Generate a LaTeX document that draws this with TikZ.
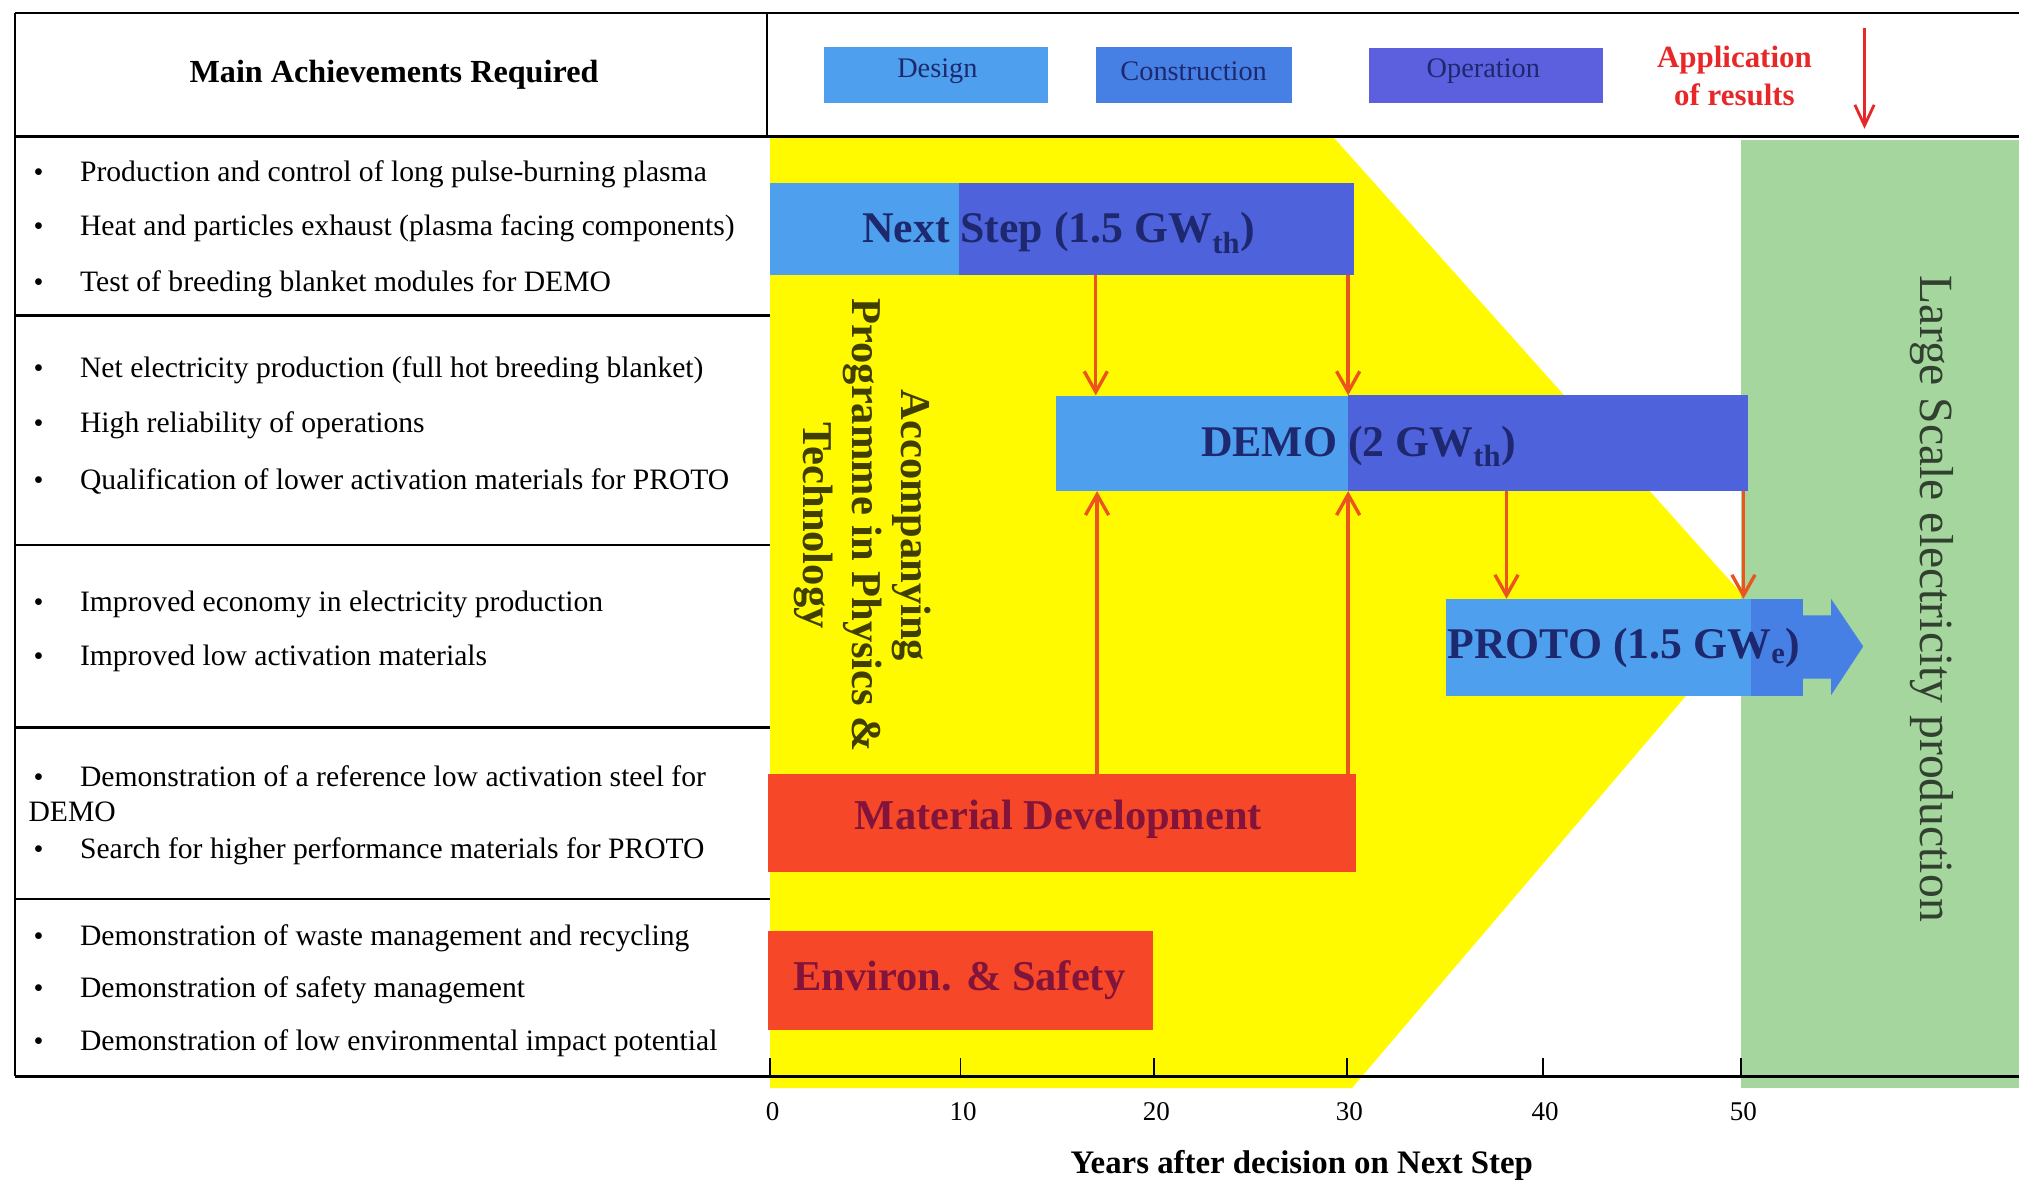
\documentclass[tikz,border=0pt]{standalone}
\usepackage{fontspec}
\setmainfont{Liberation Serif}
\usetikzlibrary{arrows.meta,calc}
\definecolor{ylw}{RGB}{255,250,0}
\definecolor{grn}{RGB}{164,214,158}
\definecolor{lblue}{RGB}{78,160,238}
\definecolor{cblue}{RGB}{70,128,228}
\definecolor{dblue}{RGB}{78,98,220}
\definecolor{oblue}{RGB}{92,96,222}
\definecolor{rbar}{RGB}{246,72,40}
\definecolor{rarrow}{RGB}{236,84,30}
\definecolor{appred}{RGB}{232,40,40}
\definecolor{navy}{RGB}{30,40,110}
\definecolor{maroon}{RGB}{130,20,60}
\tikzset{
  tline/.style={line width=1.6pt, black},
  item/.style={anchor=base west, inner sep=0pt, font=\fontsize{23}{27}\selectfont},
  bul/.style={anchor=base, inner sep=0pt, font=\fontsize{22}{26}\selectfont},
  barbox/.style={draw=none, anchor=north west, inner sep=0pt},
  barlbl/.style={inner sep=0pt, font=\bfseries\fontsize{34}{38}\selectfont, text=navy},
  redlbl/.style={inner sep=0pt, font=\bfseries\fontsize{33}{37}\selectfont, text=maroon},
  leglbl/.style={inner sep=0pt, font=\fontsize{22}{26}\selectfont, text=navy},
  rarr/.style={draw=rarrow, line width=2.6pt, -{Straight Barb[length=16pt,width=18pt,line width=2.6pt]}},
  ticklbl/.style={inner sep=0pt, font=\fontsize{21}{25}\selectfont},
}
\begin{document}
\begin{tikzpicture}[x=1pt,y=-1pt]
\useasboundingbox (0,0) rectangle (1568,918);
\fill[white] (0,0) rectangle (1568,918);

% background regions
\fill[ylw] (598,106) -- (1035,106) -- (1365,475) -- (1050,845) -- (598,845) -- cycle;
\fill[grn] (1352,109) rectangle (1568,845);

% table lines
\draw[tline] (12,10) -- (1568,10);
\draw[tline] (12,106) -- (1568,106);
\draw[tline] (12,10) -- (12,836);
\draw[tline] (596,10) -- (596,106);
\foreach \yy in {245,423,565,698} { \draw[tline] (12,\yy) -- (598,\yy); }
\draw[tline] (12,836) -- (1568,836);

% axis ticks
\coordinate (t0) at (598,836);
\coordinate (t10) at (746,836);
\coordinate (t20) at (896,836);
\coordinate (t30) at (1046,836);
\coordinate (t40) at (1198,836);
\coordinate (t50) at (1352,836);
\foreach \t/\l in {t0/0,t10/10,t20/20,t30/30,t40/40,t50/50} {
  \draw[line width=1.4pt] (\t) -- ++(0,-14);
  \node[ticklbl] (lab\t) at ($(\t)+(2,27)$) {\l};
}
\node[inner sep=0pt, font=\bfseries\fontsize{25.5}{29}\selectfont] (axtitle) at (1011,905) {Years after decision on Next Step};

% header
\node[inner sep=0pt, font=\bfseries\fontsize{25}{29}\selectfont] (head) at (306,58) {Main Achievements Required};
\node[barbox, fill=lblue, minimum width=174, minimum height=44] (legD) at (640,36) {};
\node[leglbl] (legDl) at (728,55) {Design};
\node[barbox, fill=cblue, minimum width=152, minimum height=44] (legC) at (851,36) {};
\node[leglbl] (legCl) at (927,55) {Construction};
\node[barbox, fill=oblue, minimum width=182, minimum height=43] (legO) at (1063,37) {};
\node[leglbl] (legOl) at (1152,55) {Operation};
\node[inner sep=0pt, align=center, text=appred, font=\bfseries\fontsize{24}{29}\selectfont] (app) at (1347,59) {Application\\of results};
\coordinate (appTop) at (1448,22);
\coordinate (appBot) at (1448,100);
\draw[draw=appred, line width=2.2pt, -{Straight Barb[length=16pt,width=15pt,line width=2.2pt]}] (appTop) -- (appBot);

% left table text
\node[bul] (b11) at (30,141) {•}; \node[item] (i11) at (62,141) {Production and control of long pulse-burning plasma};
\node[bul] (b12) at (30,183) {•}; \node[item] (i12) at (62,183) {Heat and particles exhaust (plasma facing components)};
\node[bul] (b13) at (30,226) {•}; \node[item] (i13) at (62,226) {Test of breeding blanket modules for DEMO};
\node[bul] (b21) at (30,293) {•}; \node[item] (i21) at (62,293) {Net electricity production (full hot breeding blanket)};
\node[bul] (b22) at (30,336) {•}; \node[item] (i22) at (62,336) {High reliability of operations};
\node[bul] (b23) at (30,380) {•}; \node[item] (i23) at (62,380) {Qualification of lower activation materials for PROTO};
\node[bul] (b31) at (30,475) {•}; \node[item] (i31) at (62,475) {Improved economy in electricity production};
\node[bul] (b32) at (30,517) {•}; \node[item] (i32) at (62,517) {Improved low activation materials};
\node[bul] (b41) at (30,611) {•}; \node[item] (i41) at (62,611) {Demonstration of a reference low activation steel for};
\node[item] (i41b) at (22,638) {DEMO};
\node[bul] (b42) at (30,667) {•}; \node[item] (i42) at (62,667) {Search for higher performance materials for PROTO};
\node[bul] (b51) at (30,734) {•}; \node[item] (i51) at (62,734) {Demonstration of waste management and recycling};
\node[bul] (b52) at (30,775) {•}; \node[item] (i52) at (62,775) {Demonstration of safety management};
\node[bul] (b53) at (30,816) {•}; \node[item] (i53) at (62,816) {Demonstration of low environmental impact potential};

% accompanying programme text
\node[rotate=-90, inner sep=0pt, align=center, text=black!75!ylw, font=\bfseries\fontsize{33}{38}\selectfont] (acc) at (670,408) {Accompanying\\Programme in Physics \&\\Technology};

% large scale text
\node[rotate=-90, inner sep=0pt, text=black!70!grn, font=\fontsize{37}{40}\selectfont] (lsp) at (1500,465) {Large Scale electricity production};

% bars
\node[barbox, fill=lblue, minimum width=453, minimum height=71] (ns) at (598,142) {};
\fill[dblue] (745,142) rectangle (ns.south east);
\node[barlbl] (nsl) at (822,181) {Next Step (1.5 GW\textsubscript{th})};

\node[barbox, fill=lblue, minimum width=537, minimum height=74] (demo) at (820,307) {};
\fill[dblue] (1047,307) rectangle (demo.south east);
\node[barlbl] (demol) at (1055,347) {DEMO (2 GW\textsubscript{th})};

\node[barbox, fill=lblue, minimum width=277, minimum height=75] (proto) at (1123,465) {};
\fill[cblue] (1360,465) rectangle (proto.south east);
\fill[cblue] (1398,478) -- (1422,478) -- (1422,465) -- (1447,502) -- (1422,540) -- (1422,527) -- (1398,527) -- cycle;
\node[barlbl, anchor=west] (protol) at (1124,503) {PROTO (1.5 GW\textsubscript{e})};

\node[barbox, fill=rbar, minimum width=457, minimum height=76] (mat) at (596,601) {};
\node[redlbl] (matl) at (822,636) {Material Development};

\node[barbox, fill=rbar, minimum width=299, minimum height=77] (env) at (596,723) {};
\node[redlbl] (envl) at (745,761) {Environ. \& Safety};

% red arrows
\coordinate (xa) at (851,0);
\coordinate (xb) at (1047,0);
\coordinate (xc) at (852,0);
\coordinate (xd) at (1170,0);
\coordinate (xe) at (1354,0);
\draw[rarr] (ns.south -| xa) -- (demo.north -| xa);
\draw[rarr] (ns.south -| xb) -- (demo.north -| xb);
\draw[rarr] (mat.north -| xc) -- (demo.south -| xc);
\draw[rarr] (mat.north -| xb) -- (demo.south -| xb);
\draw[rarr] (demo.south -| xd) -- (proto.north -| xd);
\draw[rarr] (demo.south -| xe) -- (proto.north -| xe);
\end{tikzpicture}
\end{document}
